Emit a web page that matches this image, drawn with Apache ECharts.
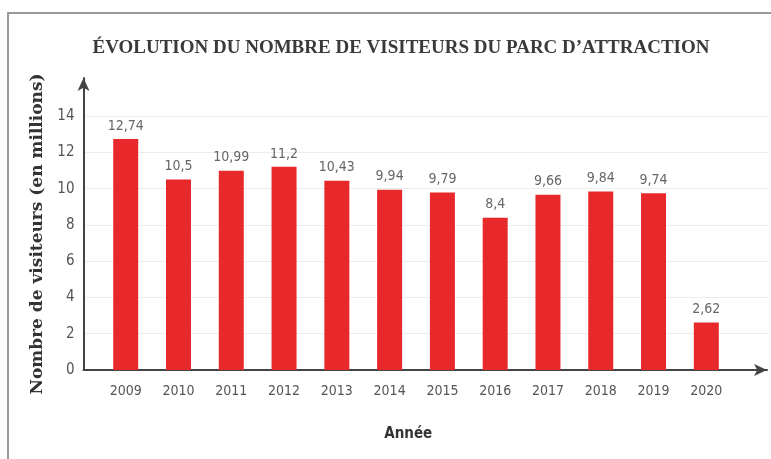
<!DOCTYPE html>
<html>
<head>
<meta charset="utf-8">
<script src="https://cdn.jsdelivr.net/npm/echarts@6/dist/echarts.min.js"></script>
<style>
  html, body { margin: 0; padding: 0; background: #fff; }
  #chart { width: 771px; height: 459px; }
</style>
</head>
<body>
<div id="chart"></div>
<script>
// données
const annees = [2009, 2010, 2011, 2012, 2013, 2014, 2015, 2016, 2017, 2018, 2019, 2020];
const visiteurs = [12.74, 10.5, 10.99, 11.2, 10.43, 9.94, 9.79, 8.4, 9.66, 9.84, 9.74, 2.62];
const graduationsY = [0, 2, 4, 6, 8, 10, 12, 14];

const chart = echarts.init(document.getElementById('chart'));
const virgule = (v) => String(v).replace('.', ',');

chart.setOption({
  backgroundColor: '#fff',
  animation: false,
  graphic: [{
    type: 'rect', z: -10,
    shape: { x: 8, y: 13, width: 900, height: 600 },
    style: { fill: 'none', stroke: '#9a9a9a', lineWidth: 2 }
  }],
  title: {
    text: "ÉVOLUTION DU NOMBRE DE VISITEURS DU PARC D’ATTRACTION",
    left: 396, top: 34, textAlign: 'center',
    textStyle: { fontFamily: 'Liberation Serif', fontWeight: 'bold', fontSize: 19, color: '#3a3a3a' }
  },
  grid: { left: 83.5, right: 4, top: 78, bottom: 89 },
  xAxis: {
    type: 'value', min: 2008.2, max: 2021.15,
    name: 'Année', nameLocation: 'middle', nameGap: 57,
    nameTextStyle: { fontFamily: 'DejaVu Sans Condensed', fontWeight: 'bold', fontSize: 15, color: '#333', padding: [0, 34, 0, 0] },
    axisLine: { lineStyle: { color: '#444', width: 2 }, symbol: ['none', 'arrow'], symbolSize: [9, 13] },
    axisTick: { show: false },
    splitLine: { show: false },
    axisLabel: {
      customValues: annees, margin: 14,
      fontFamily: 'DejaVu Sans Condensed', fontSize: 14, color: '#555',
      formatter: (v) => String(Math.round(v))
    }
  },
  yAxis: {
    type: 'value', min: 0, max: 16.1,
    name: 'Nombre de visiteurs (en millions)', nameLocation: 'middle', nameGap: 34, nameRotate: 90,
    nameTextStyle: { fontFamily: 'DejaVu Serif', fontWeight: 'bold', fontSize: 17, color: '#333', padding: [0, 20, 0, 0] },
    axisLine: { show: true, lineStyle: { color: '#444', width: 2 }, symbol: ['none', 'arrow'], symbolSize: [9, 13] },
    axisTick: { show: false, customValues: graduationsY },
    axisLabel: {
      customValues: graduationsY, margin: 9,
      fontFamily: 'DejaVu Sans Condensed', fontSize: 15, color: '#555'
    },
    splitLine: { show: true, lineStyle: { color: '#ececec', width: 1 } }
  },
  series: [{
    type: 'bar',
    barWidth: 25,
    data: annees.map((a, i) => [a, visiteurs[i]]),
    itemStyle: { color: '#e8292b' },
    label: {
      show: true, position: 'top', distance: 6,
      fontFamily: 'DejaVu Sans Condensed', fontSize: 14, color: '#666',
      formatter: (p) => virgule(p.value[1])
    }
  }]
});
</script>
</body>
</html>
